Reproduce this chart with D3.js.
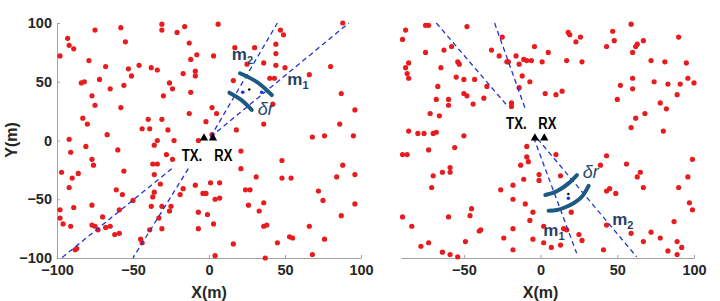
<!DOCTYPE html>
<html>
<head>
<meta charset="utf-8">
<script src="https://cdn.jsdelivr.net/npm/d3@7"></script>
<style>
  body { margin: 0; background: #fff; }
  text { font-family: "Liberation Sans", Arial, sans-serif; }
</style>
</head>
<body>
<script>
// scatterers, left scene
var leftDots = [
  [-98,72],[-93,87],[-92,81],[-89,78],[-75,94],[-58,96],[-55,84],[-79,68],[-68,63],[-84,49],[-82,50],[-72,52],
  [-77,38],[-65,44],[-56,47],[-53,61],[-51,55],[-46,64],[-38,62],[-34,60],[-31,99],[-31,94],[-21,92],[-16,97],
  [-13,83],[-8,73],[-12,69],[-9,59],[-9,55],[-17,57],[-26,49],[-24,44],[-30,38],[-12,41],[6,99],[3,72],[17,79],
  [30,79],[16,51],[25,65],[36,66],[44,82],[44,74],[44,64],[47,94],[49,90],[50,62],[40,53],[43,53],[66,56],[80,63],
  [88,100],[87,40],
  [-75,30],[-58,28],[-83,19],[-80,14],[-67,5],[-92,1],[-91,-10],[-81,-5],[-60,-8],[-77,-16],[-76,-21],[-97,-27],
  [-86,-28],[-90,-32],[-56,-26],[-44,10],[-40,18],[-39,10],[-31,18],[-27,9],[-34,0],[-36,-4],[-23,0],[-28,-12],
  [-24,-16],[-37,-20],[-34,-20],[-36,-29],[-13,23],[2,28],[5,23],[-2,16],[2,5],[-7,0],[18,9],[21,-9],[21,-24],
  [31,-31],[36,14],[42,31],[48,-17],[48,-32],[54,-32],[68,3],[76,4],[86,14],[96,26],[95,4],[88,-21],[84,-31],[96,-29],
  [-92,-40],[-89,-57],[-98,-59],[-98,-66],[-96,-71],[-91,-73],[-88,-93],[-87,-92],[-77,-55],[-77,-72],[-75,-73],
  [-73,-76],[-70,-65],[-68,-74],[-65,-73],[-62,-80],[-59,-79],[-61,-42],[-57,-46],[-50,-51],[-59,-59],[-45,-84],
  [-44,-87],[-39,-76],[-38,-56],[-37,-48],[-36,-44],[-33,-66],[-31,-75],[-32,-37],[-31,-56],[-25,-56],[-26,-60],
  [-19,-46],[-17,-41],[-9,-38],[-7,-61],[-1,-63],[3,-71],[-7,-75],[-4,-45],[-2,-45],[1,-36],[7,-36],[4,-50],[7,-49],
  [4,-98],[16,-88],[24,-42],[27,-42],[26,-55],[33,-60],[36,-53],[36,-73],[38,-72],[37,-100],[45,-87],[53,-82],
  [55,-83],[66,-73],[72,-43],[75,-51],[76,-84],[68,-97],[87,-64],[96,-54]
];

// scatterers, right scene
var rightDots = [
  [-88,94],[-90,86],[-75,98],[-73,98],[-48,97],[-75,75],[-63,77],[-58,80],[-86,66],[-88,62],[-87,57],[-86,53],
  [-65,62],[-54,67],[-53,65],[-55,54],[-50,52],[-43,52],[-67,46],[-50,40],[-48,38],[-35,46],[-37,36],[-32,77],
  [-27,72],[-25,88],[-16,72],[-22,67],[-21,67],[-14,65],[-11,69],[-9,68],[-6,68],[-4,80],[1,67],[5,75],[-12,55],
  [-7,50],[-14,45],[3,40],[10,39],[14,42],[18,92],[19,90],[26,88],[23,84],[17,68],[27,67],[43,80],[47,93],[48,85],
  [59,99],[62,80],[63,82],[67,85],[60,75],[72,68],[81,67],[90,88],[95,66],[60,53],[60,44],[52,47],[74,50],[83,48],
  [91,48],[96,53],[100,49],[89,39],[50,35],[-68,35],[-60,35],
  [-60,30],[-44,31],[-72,23],[-66,21],[-86,8],[-80,6],[-76,6],[-70,6],[-68,7],[-50,4],[-90,-12],[-87,-12],[-73,-8],
  [-56,-6],[-64,-27],[-59,-23],[-59,-27],[-70,-30],[-19,32],[-19,29],[-9,-5],[-9,-14],[-8,-18],[-13,-21],[-1,-29],
  [10,-12],[13,-30],[-11,-33],[39,-21],[43,-13],[62,19],[68,23],[59,11],[78,32],[82,27],[80,8],[56,-20],[65,-27],
  [63,-31],[99,-16],[96,-31],
  [-71,-40],[-90,-65],[-84,-73],[-60,-65],[-45,-58],[-46,-64],[-40,-77],[-39,-76],[-49,-86],[-73,-87],[-78,-90],
  [-64,-95],[-59,-97],[-54,-99],[-26,-42],[-18,-38],[-18,-50],[-10,-54],[-5,-61],[-7,-68],[-1,-34],[-18,-75],
  [-24,-83],[-18,-93],[-5,-84],[2,-87],[7,-91],[2,-73],[13,-89],[15,-75],[17,-76],[25,-80],[27,-85],[20,-61],
  [41,-93],[43,-72],[59,-79],[67,-86],[72,-78],[78,-83],[89,-97],[83,-94],[89,-86],[92,-91],[87,-69],[97,-53],
  [99,-59],[43,-43],[45,-41],[49,-45],[67,-40],[90,-40]
];

var leftXTicks = [-100, -50, 0, 50, 100];
var rightXTicks = [-50, 0, 50, 100];
var yTicks = [-100, -50, 0, 50, 100];

// dashed ray segments [[x0,y0],[x1,y1]]
var leftRays = [
  [[1,3],[45,100]], [[1,3],[92,100]],
  [[-24.5,-24],[-97,-100]], [[-13.6,-24],[-50,-100]]
];
var rightRays = [
  [[-68,100],[-22,30]], [[-30,100],[-10,27]],
  [[-4.5,2.5],[23.5,-96]], [[-2,1.5],[62.6,-99]]
];

// thick arcs through a few points
var leftArcs = [
  [[20.4,57.2],[31.9,49.5],[41.3,38.7]],
  [[13.4,40.7],[21.4,34.3],[28.1,26]]
];
var rightArcs = [
  [[3.1,-46.4],[8.5,-44.4],[12.8,-41.5],[18.2,-36.5],[23.7,-29.4]],
  [[5.2,-59.7],[10.7,-59.1],[16.1,-56.8],[21.5,-53.4],[27,-47.7],[31.3,-38.6]]
];

var leftBlue = [[22.2,41],[34.7,41]], leftBlack = [[26.5,43.4]];
var rightBlue = [[18.1,-49.2]], rightBlack = [[18.1,-45.5]];

var leftNodes = [-3.3, 2.6], rightNodes = [-3.7, 2.4];

// labels: [text, sub, x, y, kind]
var leftLabels = [
  ["m", "2", 15, 68.5, "m"], ["m", "1", 51.5, 47, "m"], ["\u03B4r", "", 32, 22, "d"],
  ["TX.", "", -18, -17.7, "t"], ["RX", "", 3.5, -17.7, "t"]
];
var rightLabels = [
  ["\u03B4r", "", 27.4, -32, "d"], ["m", "2", 46.7, -72, "m"], ["m", "1", 1.8, -81.3, "m"],
  ["TX.", "", -22.5, 9.8, "t"], ["RX", "", -1.5, 9.8, "t"]
];

var svg = d3.select("body").append("svg").attr("width", 720).attr("height", 301);
var y = d3.scaleLinear().domain([-100, 100]).range([258, 23]);

function drawPanel(xDomain, xRange, xTicks, withY, dots, rays, arcs, blue, black, nodes, labels) {
  var x = d3.scaleLinear().domain(xDomain).range(xRange);
  var g = svg.append("g");

  var xa = g.append("g").attr("transform", "translate(0,258)")
    .call(d3.axisBottom(x).tickValues(xTicks).tickSizeInner(-3).tickSizeOuter(0).tickPadding(7).tickFormat(d3.format("d")));
  styleAxis(xa);
  if (withY) {
    var ya = g.append("g").attr("transform", "translate(" + xRange[0] + ",0)")
      .call(d3.axisLeft(y).tickValues(yTicks).tickSizeInner(-3).tickSizeOuter(0).tickPadding(5).tickFormat(d3.format("d")));
    styleAxis(ya);
  }

  g.append("g").selectAll("circle").data(dots).join("circle")
    .attr("cx", d => x(d[0])).attr("cy", d => y(d[1])).attr("r", 2.6).attr("fill", "#e81b1d");

  g.append("g").selectAll("line").data(rays).join("line")
    .attr("x1", d => x(d[0][0])).attr("y1", d => y(d[0][1]))
    .attr("x2", d => x(d[1][0])).attr("y2", d => y(d[1][1]))
    .attr("stroke", "#2233d4").attr("stroke-width", 1.3).attr("stroke-dasharray", "5,3.5");

  var line = d3.line().x(d => x(d[0])).y(d => y(d[1])).curve(d3.curveNatural);
  g.append("g").selectAll("path").data(arcs).join("path")
    .attr("d", line).attr("fill", "none").attr("stroke", "#1c5a82")
    .attr("stroke-width", 4).attr("stroke-linecap", "round");

  g.selectAll(".bd").data(blue).join("circle").attr("class", "bd")
    .attr("cx", d => x(d[0])).attr("cy", d => y(d[1])).attr("r", 1.8).attr("fill", "#2233d4");
  g.selectAll(".kd").data(black).join("circle").attr("class", "kd")
    .attr("cx", d => x(d[0])).attr("cy", d => y(d[1])).attr("r", 1.3).attr("fill", "#111");

  g.selectAll(".node").data(nodes).join("path").attr("class", "node")
    .attr("d", d3.symbol(d3.symbolTriangle, 30))
    .attr("transform", d => "translate(" + x(d) + "," + (y(0) - 2.5) + ")")
    .attr("fill", "#000");

  labels.forEach(function(l) {
    var t = g.append("text").attr("x", x(l[2])).attr("y", y(l[3]));
    if (l[4] == "t") {
      t.text(l[0]).attr("font-size", 16).attr("font-weight", "bold").attr("fill", "#000")
        .attr("font-family", "'Open Sans', sans-serif")
        .attr("textLength", l[0] == "TX." ? 20.5 : 18).attr("lengthAdjust", "spacingAndGlyphs");
    } else if (l[4] == "d") {
      t.text(l[0]).attr("font-size", 18).attr("font-style", "italic").attr("fill", "#2c4a72")
        .attr("font-family", "'DejaVu Serif', serif");
    } else {
      t.attr("font-size", 17).attr("font-weight", 600).attr("fill", "#2b3f62")
        .attr("font-family", "'Open Sans', sans-serif");
      t.append("tspan").text(l[0]);
      t.append("tspan").text(l[1]).attr("font-size", 11).attr("dy", 4);
    }
  });

  svg.append("text").attr("x", (xRange[0] + xRange[1]) / 2 + (withY ? 0 : -7)).attr("y", 298)
    .attr("text-anchor", "middle").attr("font-size", 16).attr("font-weight", "bold").attr("fill", "#262626")
    .text("X(m)");
}

function styleAxis(a) {
  a.select(".domain").attr("stroke", "#a0a0a0");
  a.selectAll(".tick line").attr("stroke", "#a0a0a0");
  a.selectAll(".tick text").attr("font-size", 14.5).attr("font-weight", "bold").attr("fill", "#262626")
    .attr("font-family", "'Liberation Sans', Arial, sans-serif");
}

drawPanel([-100, 100], [57, 361], leftXTicks, true, leftDots, leftRays, leftArcs, leftBlue, leftBlack, leftNodes, leftLabels);
drawPanel([-91, 100], [401, 694], rightXTicks, false, rightDots, rightRays, rightArcs, rightBlue, rightBlack, rightNodes, rightLabels);

svg.append("text").attr("transform", "translate(17,140) rotate(-90)")
  .attr("text-anchor", "middle").attr("font-size", 16).attr("font-weight", "bold").attr("fill", "#262626")
  .text("Y(m)");
</script>
</body>
</html>
